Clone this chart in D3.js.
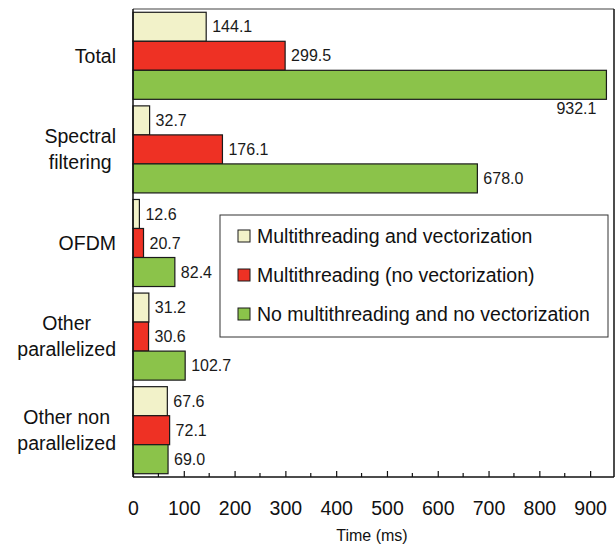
<!DOCTYPE html>
<html><head><meta charset="utf-8">
<script src="https://cdn.jsdelivr.net/npm/d3@7"></script>
<style>body{margin:0;background:#fff}svg{display:block;font-family:"Liberation Sans",Arial,sans-serif}</style>
</head><body><svg id="c" width="615" height="546"></svg>
<script>
const categories = [["Total"], ["Spectral", "filtering"], ["OFDM"], ["Other", "parallelized"], ["Other non", "parallelized"]];
const seriesNames = ["Multithreading and vectorization", "Multithreading (no vectorization)", "No multithreading and no vectorization"];
const seriesColors = ["#f2f2c9", "#ee3124", "#8bc34a"];
const mtVec = [144.1, 32.7, 12.6, 31.2, 67.6];
const mtNoVec = [299.5, 176.1, 20.7, 30.6, 72.1];
const noMtNoVec = [932.1, 678.0, 82.4, 102.7, 69.0];
const tickValues = [0, 100, 200, 300, 400, 500, 600, 700, 800, 900];
const minorTicks = [50, 150, 250, 350, 450, 550, 650, 750, 850];

const series = [mtVec, mtNoVec, noMtNoVec];
const svg = d3.select("#c");
const L = 133, R = 614, T = 9, B = 477;
const x = d3.scaleLinear().domain([0, 947]).range([L, R]);
const y0 = d3.scaleBand().domain(d3.range(categories.length)).range([T, B]).paddingInner(0.07).paddingOuter(0.035);
const y1 = d3.scaleBand().domain(d3.range(3)).range([0, y0.bandwidth()]);

svg.append("line").attr("x1", L).attr("x2", R).attr("y1", T).attr("y2", T).attr("stroke", "#808080").attr("stroke-width", 1.5);

const g = svg.append("g");
categories.forEach((c, i) => {
  series.forEach((s, j) => {
    const v = s[i];
    const yy = y0(i) + y1(j);
    g.append("rect").attr("x", x(0)).attr("y", yy).attr("width", x(v) - x(0)).attr("height", y1.bandwidth())
      .attr("fill", seriesColors[j]).attr("stroke", "#1a1a1a").attr("stroke-width", 1.2);
    const big = x(v) > R - 40;
    g.append("text")
      .attr("x", big ? x(v) - 10 : x(v) + 6)
      .attr("y", big ? yy + y1.bandwidth() + 9 : yy + y1.bandwidth() / 2)
      .attr("dy", "0.35em").attr("text-anchor", big ? "end" : "start")
      .attr("font-size", 16).attr("fill", "#1a1a1a").text(v.toFixed(1));
  });
  const cy = y0(i) + y0.bandwidth() / 2;
  const lh = 26;
  const texts = c.map((t, k) => svg.append("text")
      .attr("y", cy + (k - (c.length - 1) / 2) * lh)
      .attr("dy", "0.35em").attr("text-anchor", "middle").attr("font-size", 19.5).attr("fill", "#111").text(t));
  const W = d3.max(texts, t => t.node().getComputedTextLength());
  texts.forEach(t => t.attr("x", 116 - W / 2));
});

svg.append("line").attr("x1", R).attr("x2", R).attr("y1", T).attr("y2", B).attr("stroke", "#111").attr("stroke-width", 1.5);
svg.append("line").attr("x1", L).attr("x2", L).attr("y1", T).attr("y2", B).attr("stroke", "#111").attr("stroke-width", 1.5);
svg.append("line").attr("x1", L).attr("x2", R).attr("y1", B).attr("y2", B).attr("stroke", "#111").attr("stroke-width", 1.5);

const axis = d3.axisBottom(x).tickValues(tickValues).tickSize(-6).tickPadding(30).tickFormat(d3.format("d"));
const ag = svg.append("g").attr("transform", `translate(0,${B})`).call(axis);
ag.select(".domain").remove();
ag.selectAll("line").attr("stroke", "#111").attr("stroke-width", 1.2);
ag.selectAll("text").attr("font-size", 19.5).attr("fill", "#111").attr("font-family", "Liberation Sans, Arial, sans-serif").attr("dy", "0");
ag.selectAll("text").attr("y", 38);
svg.append("g").selectAll("line").data(minorTicks).join("line")
  .attr("x1", d => x(d)).attr("x2", d => x(d)).attr("y1", B).attr("y2", B - 4).attr("stroke", "#111").attr("stroke-width", 1.2);

svg.append("text").attr("x", 372).attr("y", 541).attr("text-anchor", "middle").attr("font-size", 16).attr("fill", "#111").text("Time (ms)");

const lg = svg.append("g");
lg.append("rect").attr("x", 220).attr("y", 215).attr("width", 388).attr("height", 122).attr("fill", "#fff").attr("stroke", "#333").attr("stroke-width", 1);
seriesNames.forEach((n, j) => {
  const cy = 236 + j * 39;
  lg.append("rect").attr("x", 238).attr("y", cy - 6).attr("width", 12).attr("height", 12).attr("fill", seriesColors[j]).attr("stroke", "#1a1a1a").attr("stroke-width", 1);
  lg.append("text").attr("x", 257).attr("y", cy).attr("dy", "0.35em").attr("font-size", 19.5).attr("fill", "#111").text(n);
});
</script></body></html>
